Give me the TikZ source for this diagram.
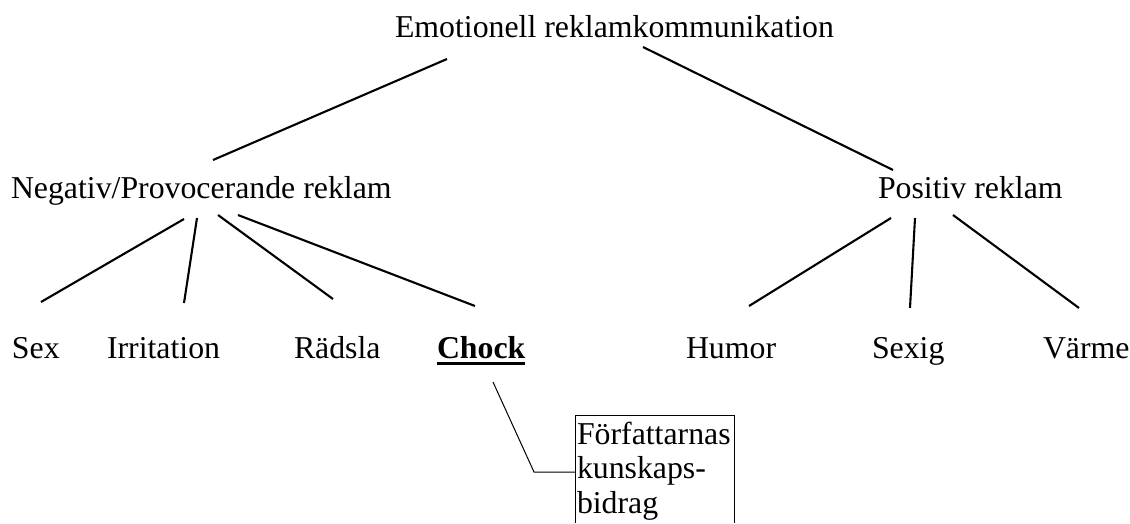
\documentclass[tikz,border=0pt]{standalone}
\usepackage{fontspec}
\setmainfont{Liberation Serif}
\begin{document}
\begin{tikzpicture}[x=1pt,y=-1pt,
  lbl/.style={anchor=base west,inner sep=0pt,outer sep=0pt,
    font=\fontsize{31.8}{34.8}\selectfont},
  branch/.style={line width=2.1pt},
  thin/.style={line width=1pt}]
\useasboundingbox (0,0) rectangle (1130,523);

% labels
\node[lbl] (root) at (395,37) {Emotionell reklamkommunikation};
\node[lbl] (neg)  at (11,198) {Negativ/Provocerande reklam};
\node[lbl] (pos)  at (878,198) {Positiv reklam};
\node[lbl] (sex)  at (12,358) {Sex};
\node[lbl] (irr)  at (107,358) {Irritation};
\node[lbl] (rad)  at (294,358) {Rädsla};
\node[lbl] (chock) at (437,358) {\bfseries Chock};
\node[lbl] (hum)  at (686,358) {Humor};
\node[lbl] (sexig) at (872,358) {Sexig};
\node[lbl] (varme) at (1043,358) {Värme};
% the base of a multi-line node is that of its last line
\node[lbl,align=left] (note) at (577,513)
  {Författarnas\\[-0.3pt]kunskaps-\\[-0.3pt]bidrag};

% underline of the highlighted category
\draw[line width=3pt] ([yshift=-5.5pt]chock.base west) -- ([yshift=-5.5pt]chock.base east);

% connector end points
\coordinate (r1) at (447,59);   \coordinate (n0) at (213,160);
\coordinate (r2) at (643,47);   \coordinate (p0) at (893,170);
\coordinate (n1) at (184,219);  \coordinate (s0) at (41,302);
\coordinate (n2) at (197,218);  \coordinate (i0) at (184,303);
\coordinate (n3) at (218,215);  \coordinate (d0) at (333,299);
\coordinate (n4) at (238,215);  \coordinate (c0) at (475,306);
\coordinate (p1) at (891,218);  \coordinate (h0) at (749,306);
\coordinate (p2) at (915,218);  \coordinate (g0) at (910,308);
\coordinate (p3) at (953,215);  \coordinate (v0) at (1079,308);

% tree branches
\draw[branch] (r1) -- (n0);
\draw[branch] (r2) -- (p0);
\draw[branch] (n1) -- (s0);
\draw[branch] (n2) -- (i0);
\draw[branch] (n3) -- (d0);
\draw[branch] (n4) -- (c0);
\draw[branch] (p1) -- (h0);
\draw[branch] (p2) -- (g0);
\draw[branch] (p3) -- (v0);

% callout box and its leader
\coordinate (bl) at (575,523); \coordinate (tl) at (575,415);
\coordinate (tr) at (734,415); \coordinate (br) at (734,523);
\draw[thin] (bl) -- (tl) -- (tr) -- (br);
\coordinate (c1) at (493,382); \coordinate (c2) at (534,472);
\coordinate (c3) at (575,472);
\draw[thin] (c1) -- (c2) -- (c3);
\end{tikzpicture}
\end{document}
